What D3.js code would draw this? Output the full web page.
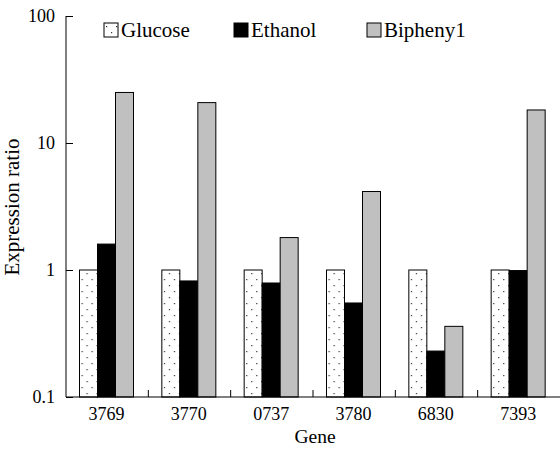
<!DOCTYPE html>
<html>
<head>
<meta charset="utf-8">
<script src="https://cdn.jsdelivr.net/npm/d3@7"></script>
<style>
  body { margin: 0; background: #fff; }
</style>
</head>
<body>
<svg id="chart" width="560" height="450"></svg>
<script>
// data
const genes = ["3769", "3770", "0737", "3780", "6830", "7393"];
const seriesNames = ["Glucose", "Ethanol", "Bipheny1"];
const glucose = [1, 1, 1, 1, 1, 1];
const ethanol = [1.6, 0.82, 0.79, 0.55, 0.23, 0.99];
const biphenyl = [25, 20.8, 1.8, 4.15, 0.36, 18.2];
const yTicks = [0.1, 1, 10, 100];

const series = [glucose, ethanol, biphenyl];
const fills = ["url(#dots)", "#000", "#c0c0c0"];
const serif = "Liberation Serif, DejaVu Serif, serif";

const svg = d3.select("#chart");
const plotLeft = 66, plotRight = 560, plotTop = 16, plotBottom = 397;

// dotted fill for glucose
const pat = svg.append("defs").append("pattern")
  .attr("id", "dots")
  .attr("patternUnits", "userSpaceOnUse")
  .attr("width", 10)
  .attr("height", 12);
pat.append("rect").attr("width", 10).attr("height", 12).attr("fill", "#fff");
pat.append("rect").attr("x", 2).attr("y", 3).attr("width", 1.2).attr("height", 1.2).attr("fill", "#333");
pat.append("rect").attr("x", 7).attr("y", 9).attr("width", 1.2).attr("height", 1.2).attr("fill", "#333");

const x = d3.scaleBand().domain(genes).range([plotLeft, plotRight]);
const y = d3.scaleLog().domain([0.1, 100]).range([plotBottom, plotTop]);
const barW = 18;
const offset = 13.5;

const rows = genes.map(function(g, i) {
  return series.map(function(s, j) {
    return { gene: g, j: j, value: s[i] };
  });
});

const group = svg.selectAll("g.group")
  .data(rows)
  .enter()
  .append("g")
  .attr("class", "group")
  .attr("transform", function(d, i) {
    return "translate(" + (x(genes[i]) + offset) + ",0)";
  });

group.selectAll("rect")
  .data(function(d) { return d; })
  .enter()
  .append("rect")
  .attr("x", function(d) { return d.j * barW; })
  .attr("y", function(d) { return y(d.value); })
  .attr("width", barW)
  .attr("height", function(d) { return plotBottom - y(d.value); })
  .attr("fill", function(d) { return fills[d.j]; })
  .attr("stroke", "#000")
  .attr("stroke-width", 1);

// y axis, ticks pointing inward
const yAxis = svg.append("g")
  .attr("transform", "translate(" + plotLeft + ",0)")
  .call(d3.axisRight(y).tickValues(yTicks).tickSize(7).tickFormat(d3.format("")));
yAxis.select(".domain").attr("d", "M0," + plotTop + "V" + plotBottom);
yAxis.selectAll("text")
  .attr("x", -11)
  .attr("text-anchor", "end");

// x axis, ticks between groups pointing up
const xAxis = svg.append("g")
  .attr("transform", "translate(0," + plotBottom + ")")
  .call(d3.axisBottom(x).tickSize(0).tickPadding(10));
xAxis.select(".domain").attr("d", "M" + plotLeft + ",0H" + plotRight);
xAxis.selectAll(".tick text")
  .attr("x", offset + 1.5 * barW - x.bandwidth() / 2);
xAxis.selectAll("line.sep")
  .data(genes.slice(1))
  .enter()
  .append("line")
  .attr("class", "sep")
  .attr("x1", function(d) { return x(d); })
  .attr("x2", function(d) { return x(d); })
  .attr("y1", 0)
  .attr("y2", -7)
  .attr("stroke", "#000");

svg.selectAll(".domain, .tick line").attr("stroke", "#000");
svg.selectAll("g").attr("font-family", null).attr("font-size", null);
svg.selectAll(".tick text").attr("font-size", 18);

// axis titles
svg.append("text")
  .attr("x", 315)
  .attr("y", 443)
  .attr("text-anchor", "middle")
  .attr("font-size", 19.5)
  .text("Gene");

svg.append("text")
  .attr("transform", "translate(19,207) rotate(-90)")
  .attr("text-anchor", "middle")
  .attr("font-size", 21)
  .text("Expression ratio");

// legend
const legendX = [104, 234, 367];
const legend = svg.selectAll("g.legend")
  .data(seriesNames)
  .enter()
  .append("g")
  .attr("class", "legend")
  .attr("transform", function(d, i) {
    return "translate(" + legendX[i] + ",23)";
  });

legend.append("rect")
  .attr("width", 14)
  .attr("height", 14)
  .attr("fill", function(d, i) { return fills[i]; })
  .attr("stroke", "#000");

legend.append("text")
  .attr("x", 17)
  .attr("y", 14)
  .attr("font-size", 21)
  .text(function(d) { return d; });

svg.selectAll("text")
  .attr("font-family", serif)
  .attr("fill", "#000");
</script>
</body>
</html>
